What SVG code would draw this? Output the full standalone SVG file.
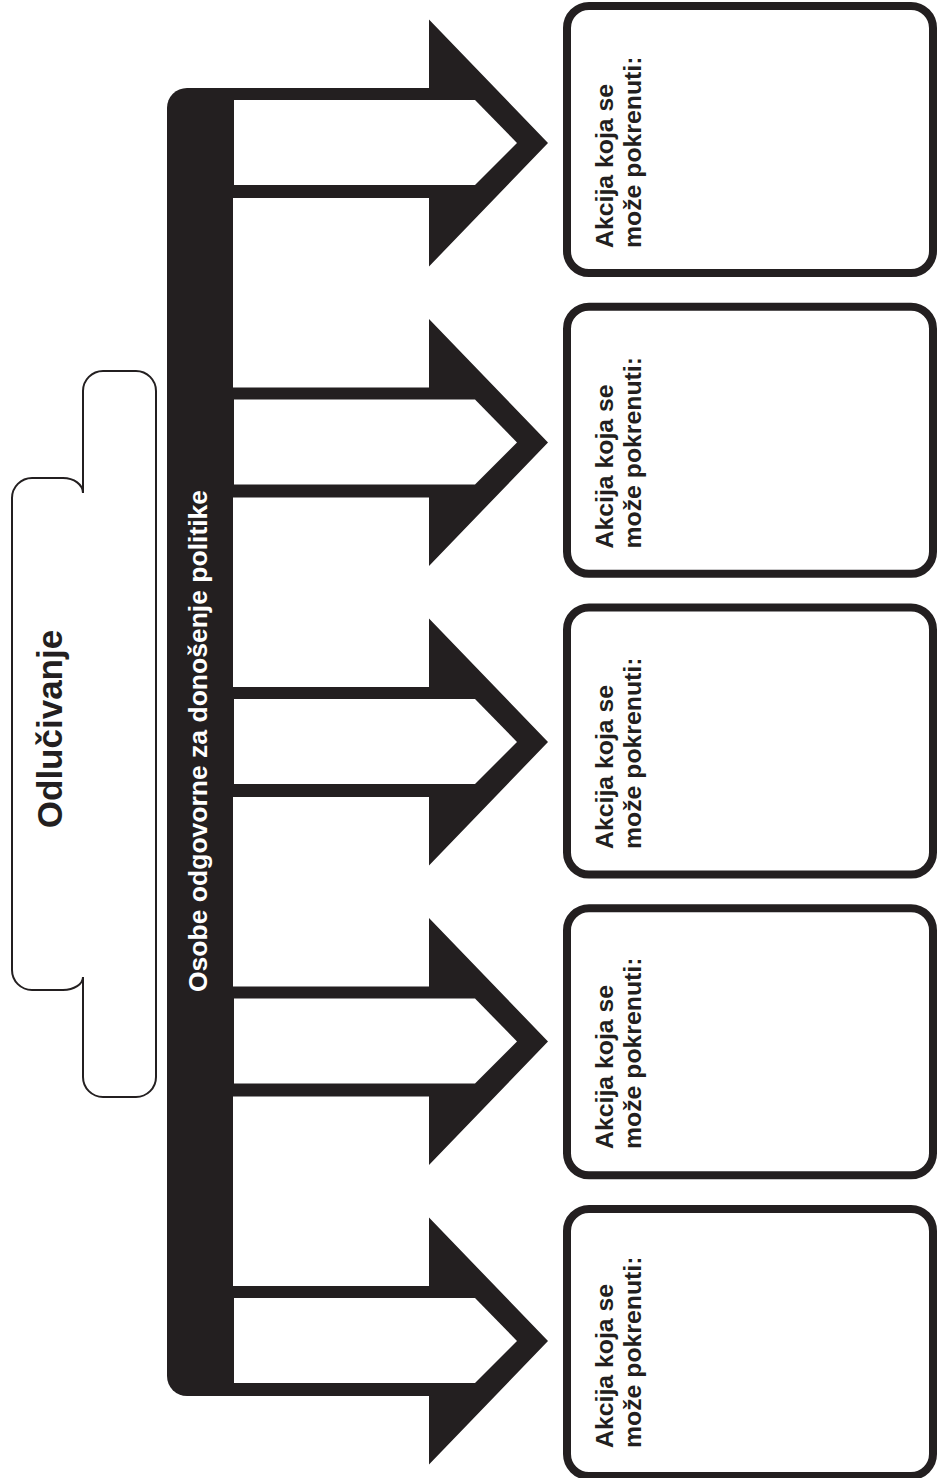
<svg xmlns="http://www.w3.org/2000/svg" xmlns:xlink="http://www.w3.org/1999/xlink" width="938" height="1478" viewBox="0 0 938 1478">
<style>
.ink{fill:#231f20}
.hole{fill:#ffffff}
.box{fill:#ffffff;stroke:#231f20;stroke-width:8}
.bubble{fill:#ffffff;stroke:#231f20;stroke-width:2}
.t{font-family:"Liberation Sans",Arial,sans-serif;font-weight:bold;fill:#231f20}
.bt{font-size:24.8px}
.wt{fill:#ffffff;font-size:26.5px}
.title{font-size:35px}
</style>
<defs>
<g id="arrow">
<polygon class="ink" points="230,-55 429,-55 429,-123.5 548,0 429,123.5 429,55 230,55"/>
<polygon class="hole" points="234,-43 475,-43 517,0 475,42 234,42"/>
</g>
</defs>
<rect width="938" height="1478" fill="#ffffff"/>
<g id="odlucivanje">
<path class="bubble" d="M83,493 V391 A20,20 0 0 1 103,371 H136 A20,20 0 0 1 156,391 V1077 A20,20 0 0 1 136,1097 H103 A20,20 0 0 1 83,1077 V977 A20,13 0 0 1 63,990 H32 A20,20 0 0 1 12,970 V498 A20,20 0 0 1 32,478 H63 A20,15 0 0 1 83,493 Z"/>
<text class="t title" text-anchor="middle" transform="translate(62,729) rotate(-90)">Odlučivanje</text>
</g>
<g id="connectors">
<use xlink:href="#arrow" href="#arrow" transform="translate(0,143)"/>
<use xlink:href="#arrow" href="#arrow" transform="translate(0,442.5)"/>
<use xlink:href="#arrow" href="#arrow" transform="translate(0,742)"/>
<use xlink:href="#arrow" href="#arrow" transform="translate(0,1041.5)"/>
<use xlink:href="#arrow" href="#arrow" transform="translate(0,1341)"/>
</g>
<g id="bar">
<path class="ink" d="M233,88 V1396 H187 A20,20 0 0 1 167,1376 V108 A20,20 0 0 1 187,88 Z"/>
<text class="t wt" transform="translate(207,992) rotate(-90)">Osobe odgovorne za donošenje politike</text>
</g>
<g id="box1">
<rect class="box" x="567" y="6" width="366" height="267" rx="22"/>
<text class="t bt" transform="translate(613,248) rotate(-90)">Akcija koja se</text>
<text class="t bt" transform="translate(641,248) rotate(-90)">može pokrenuti:</text>
</g>
<g id="box2">
<rect class="box" x="567" y="306.75" width="366" height="267" rx="22"/>
<text class="t bt" transform="translate(613,548.5) rotate(-90)">Akcija koja se</text>
<text class="t bt" transform="translate(641,548.5) rotate(-90)">može pokrenuti:</text>
</g>
<g id="box3">
<rect class="box" x="567" y="607.5" width="366" height="267" rx="22"/>
<text class="t bt" transform="translate(613,849) rotate(-90)">Akcija koja se</text>
<text class="t bt" transform="translate(641,849) rotate(-90)">može pokrenuti:</text>
</g>
<g id="box4">
<rect class="box" x="567" y="908.25" width="366" height="267" rx="22"/>
<text class="t bt" transform="translate(613,1149) rotate(-90)">Akcija koja se</text>
<text class="t bt" transform="translate(641,1149) rotate(-90)">može pokrenuti:</text>
</g>
<g id="box5">
<rect class="box" x="567" y="1209" width="366" height="267" rx="22"/>
<text class="t bt" transform="translate(613,1448) rotate(-90)">Akcija koja se</text>
<text class="t bt" transform="translate(641,1448) rotate(-90)">može pokrenuti:</text>
</g>
</svg>
